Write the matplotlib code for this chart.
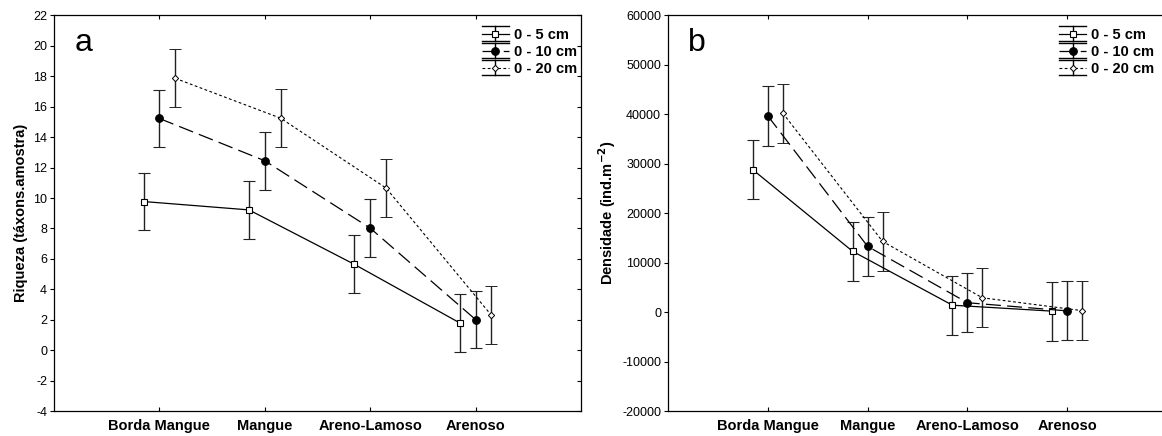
import matplotlib
matplotlib.use("Agg")
import matplotlib.pyplot as plt
from matplotlib.lines import Line2D, TICKLEFT
from matplotlib.legend_handler import HandlerBase
import numpy as np

plt.rcParams["font.family"] = ["Liberation Sans", "DejaVu Sans"]
plt.rcParams["axes.unicode_minus"] = False

# categories and series
sites = ["Borda Mangue", "Mangue", "Areno-Lamoso", "Arenoso"]
depths = ["0 - 5 cm", "0 - 10 cm", "0 - 20 cm"]

# panel a - riqueza (taxons.amostra)
riq_05 = [9.77, 9.22, 5.64, 1.79]
riq_10 = [15.23, 12.45, 8.02, 2.01]
riq_20 = [17.87, 15.25, 10.66, 2.29]
riq_err_05 = [1.90, 1.91, 1.91, 1.89]
riq_err_10 = [1.89, 1.90, 1.90, 1.90]
riq_err_20 = [1.91, 1.90, 1.90, 1.91]

# panel b - densidade (ind.m-2)
den_05 = [28800, 12300, 1400, 200]
den_10 = [39700, 13300, 1900, 250]
den_20 = [40250, 14300, 2900, 300]
den_err_05 = [5950, 5970, 5950, 5950]
den_err_10 = [6000, 6000, 6000, 5950]
den_err_20 = [5950, 5980, 5980, 5950]

styles = [
    dict(ls="-", lw=0.9, marker="s", ms=5, mfc="white", mec="black", mew=0.8),
    dict(ls=(0, (12, 5)), lw=0.9, marker="o", ms=5.5, mfc="black", mec="black", mew=0.8),
    dict(ls=(0, (2.5, 2.2)), lw=0.8, marker="D", ms=3.2, mfc="white", mec="black", mew=0.7),
]
offsets = [-0.15, 0.0, 0.15]


class Proxy:
    def __init__(self, style):
        self.style = style


class HandlerStat(HandlerBase):
    # statistica-like legend key: caps across the whole key + line + marker
    def create_artists(self, legend, orig_handle, xdescent, ydescent,
                       width, height, fontsize, trans):
        st = orig_handle.style
        x0, x1 = -xdescent, -xdescent + width
        xc = (x0 + x1) / 2
        yc = -ydescent + height / 2
        h = 0.52 * fontsize
        arts = [Line2D([x0, x1], [yc - h, yc - h], color="black", lw=1.0),
                Line2D([x0, x1], [yc + h, yc + h], color="black", lw=1.0),
                Line2D([xc, xc], [yc - h, yc + h], color="black", lw=1.0),
                Line2D([x0, x1], [yc, yc], color="black", ls=st["ls"], lw=st["lw"]),
                Line2D([xc], [yc], ls="none", marker=st["marker"], ms=st["ms"],
                       mfc=st["mfc"], mec=st["mec"], mew=st["mew"])]
        for a in arts:
            a.set_transform(trans)
        return arts


def draw_panel(ax, values, errors, letter, ylabel, ylim, ystep, leg_x):
    x = np.arange(len(sites))
    for vals, errs, st, off in zip(values, errors, styles, offsets):
        ax.errorbar(x + off, vals, yerr=errs, color="black", ecolor="#222222",
                    elinewidth=1.0, capsize=4, capthick=1.0, **st)
    ax.set_xlim(-1, 4)
    ax.set_ylim(*ylim)
    ax.set_yticks(np.arange(ylim[0], ylim[1] + ystep / 2, ystep))
    ax.set_xticks(x)
    ax.set_xticklabels(sites, fontsize=10.5, fontweight="bold")
    ax.tick_params(axis="y", length=3, pad=2, labelsize=9, width=0.8, right=True)
    ax.tick_params(axis="x", direction="in", top=True, length=3, width=0.8, pad=6)
    # y ticks: outward on the left, inward on the right
    for t in ax.yaxis.get_major_ticks():
        t.tick1line.set_marker(TICKLEFT)
        t.tick2line.set_marker(TICKLEFT)
    for s in ax.spines.values():
        s.set_linewidth(0.9)
    ax.set_ylabel(ylabel, fontsize=10.5, fontweight="bold")
    ax.text(0.04, 0.93, letter, transform=ax.transAxes, fontsize=23,
            va="center", ha="left")
    ax.legend([Proxy(st) for st in styles], depths,
              handler_map={Proxy: HandlerStat()},
              loc="upper right", bbox_to_anchor=(leg_x, 1.0),
              frameon=False, prop={"weight": "bold", "size": 10.5},
              handlelength=1.8, handletextpad=0.4, labelspacing=0.2,
              borderaxespad=0.55, borderpad=0.3)


fig = plt.figure(figsize=(11.62, 4.36), dpi=100)
ax1 = fig.add_axes([54 / 1162, 25 / 436, 527 / 1162, 395.5 / 436])
ax2 = fig.add_axes([668 / 1162, 25 / 436, 499 / 1162, 395.5 / 436])

draw_panel(ax1, [riq_05, riq_10, riq_20], [riq_err_05, riq_err_10, riq_err_20],
           "a", "Riqueza (táxons.amostra)", (-4, 22), 2, 1.017)
draw_panel(ax2, [den_05, den_10, den_20], [den_err_05, den_err_10, den_err_20],
           "b", r"Densidade (ind.m$^{\mathbf{-2}}$)", (-20000, 60000), 10000, 1.0)

ax1.yaxis.set_label_coords(-0.05, 0.5)
ax2.yaxis.set_label_coords(-0.10, 0.5)

fig.savefig("out.png", dpi=100)
